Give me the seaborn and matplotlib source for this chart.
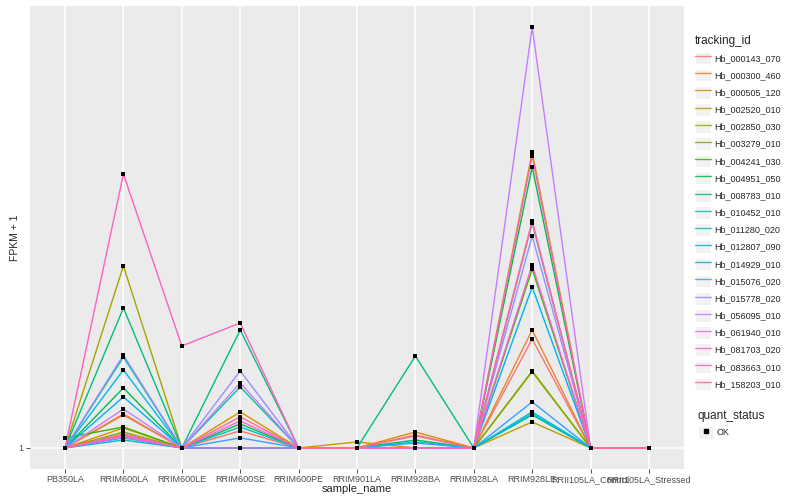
import numpy as np
import pandas as pd
import matplotlib
matplotlib.use('Agg')
import matplotlib.pyplot as plt
from matplotlib.lines import Line2D
from matplotlib.patches import Patch
from matplotlib.legend_handler import HandlerTuple
from matplotlib.ticker import NullLocator
import seaborn as sns

# samples on the x axis
samples = ['PB350LA', 'RRIM600LA', 'RRIM600LE', 'RRIM600SE', 'RRIM600PE', 'RRIM901LA',
           'RRIM928BA', 'RRIM928LA', 'RRIM928LE', 'RRII105LA_Control', 'RRII105LA_Stressed']

tracking_ids = ['Hb_000143_070', 'Hb_000300_460', 'Hb_000505_120', 'Hb_002520_010',
                'Hb_002850_030', 'Hb_003279_010', 'Hb_004241_030', 'Hb_004951_050',
                'Hb_008783_010', 'Hb_010452_010', 'Hb_011280_020', 'Hb_012807_090',
                'Hb_014929_010', 'Hb_015076_020', 'Hb_015778_020', 'Hb_056095_010',
                'Hb_061940_010', 'Hb_081703_020', 'Hb_083663_010', 'Hb_158203_010']

# FPKM + 1, one list per gene (same order as samples)
hb_000143_070 = [1, 1.177, 1, 1.088, 1, 1, 1.066, 1, 1.713, 1, 1]
hb_000300_460 = [1, 1.183, 1, 1, 1, 1, 1, 1, 1.791, 1, 1]
hb_000505_120 = [1, 1.104, 1, 1.195, 1, 1, 1.082, 1, 4.314, 1, 1]
hb_002520_010 = [1, 1.066, 1, 1, 1, 1.030, 1, 1, 1.137, 1, 1]
hb_002850_030 = [1, 2.458, 1, 1, 1, 1, 1, 1, 1.456, 1, 1]
hb_003279_010 = [1, 1.082, 1, 1, 1, 1, 1, 1, 1.463, 1, 1]
hb_004241_030 = [1.051, 1.109, 1, 1, 1, 1, 1, 1, 2.421, 1, 1]
hb_004951_050 = [1, 1.345, 1, 1.126, 1, 1, 1.040, 1, 4.007, 1, 1]
hb_008783_010 = [1, 1.997, 1, 1.791, 1, 1, 1.575, 1, 1.177, 1, 1]
hb_010452_010 = [1, 1.567, 1, 1.352, 1, 1, 1, 1, 3.039, 1, 1]
hb_011280_020 = [1, 1.040, 1, 1.109, 1, 1, 1.030, 1, 1.183, 1, 1]
hb_012807_090 = [1, 1.470, 1, 1, 1, 1, 1, 1, 1.195, 1, 1]
hb_014929_010 = [1, 1.287, 1, 1, 1, 1, 1, 1, 2.215, 1, 1]
hb_015076_020 = [1, 1.051, 1, 1.051, 1, 1, 1.025, 1, 1.255, 1, 1]
hb_015778_020 = [1, 1.583, 1, 1.463, 1, 1, 1, 1, 2.849, 1, 1]
hb_056095_010 = [1, 1.212, 1, 1.379, 1, 1, 1, 1, 8.0, 1, 1]
hb_061940_010 = [1, 1.056, 1, 1, 1, 1, 1, 1, 3.054, 1, 1]
hb_081703_020 = [1, 1.061, 1, 1.143, 1, 1, 1, 1, 2.470, 1, 1]
hb_083663_010 = [1, 3.870, 1.655, 1.854, 1, 1, 1, 1, 4.229, 1, 1]
hb_158203_010 = [1, 1.072, 1, 1.166, 1, 1, 1.061, 1, 3.069, 1, 1]

fpkm = [hb_000143_070, hb_000300_460, hb_000505_120, hb_002520_010, hb_002850_030,
        hb_003279_010, hb_004241_030, hb_004951_050, hb_008783_010, hb_010452_010,
        hb_011280_020, hb_012807_090, hb_014929_010, hb_015076_020, hb_015778_020,
        hb_056095_010, hb_061940_010, hb_081703_020, hb_083663_010, hb_158203_010]

# ggplot hue palette, 20 levels
colors = ['#F8766D', '#EA8331', '#D89000', '#C09B00', '#A3A500', '#7CAE00', '#39B600',
          '#00BB4E', '#00BF7D', '#00C1A3', '#00BFC4', '#00BAE0', '#00B0F6', '#35A2FF',
          '#9590FF', '#C77CFF', '#E76BF3', '#FA62DB', '#FF62BC', '#FF6C91']

rows = []
for tid, vals in zip(tracking_ids, fpkm):
    for s, v in zip(samples, vals):
        rows.append({'tracking_id': tid, 'sample_name': s, 'value': v, 'quant_status': 'OK'})
df = pd.DataFrame(rows)

sns.set_style('darkgrid', {'axes.facecolor': '#EBEBEB', 'grid.color': 'white'})
plt.rcParams['font.family'] = ['Liberation Sans', 'DejaVu Sans']

fig = plt.figure(figsize=(8, 5), dpi=100)
ax = fig.add_axes([0.0375, 0.062, 0.8175, 0.926])

sns.lineplot(data=df, x='sample_name', y='value', hue='tracking_id', hue_order=tracking_ids,
             palette=colors, estimator=None, sort=False, linewidth=1.0, legend=False, ax=ax)
sns.scatterplot(data=df, x='sample_name', y='value', color='black', marker='s', s=9,
                linewidth=0, legend=False, ax=ax, zorder=5)

ax.set_yscale('log')
ymax = max(max(v) for v in fpkm)
lo, hi = 0.0, np.log10(ymax)
pad = 0.05 * (hi - lo)
ax.set_ylim(10 ** (lo - pad), 10 ** (hi + pad))
ax.set_yticks([1])
ax.set_yticklabels(['1'])
ax.yaxis.set_minor_locator(NullLocator())
ax.set_xlim(-0.6, len(samples) - 0.4)
ax.grid(True, which='major', color='white', linewidth=1.1)
for sp in ax.spines.values():
    sp.set_visible(False)
ax.tick_params(axis='both', length=3, width=0.6, color='#333333', labelcolor='#4D4D4D',
               labelsize=6.5, pad=1.5, bottom=True, left=True)
ax.set_xlabel('sample_name', fontsize=8, labelpad=0)
ax.set_ylabel('FPKM + 1', fontsize=7.5, labelpad=-1)

# legends
key_bg = '#F2F2F2'
handles = [(Patch(facecolor=key_bg, edgecolor='white', linewidth=0.8),
            Line2D([], [], color=c, lw=1.0, alpha=0.85)) for c in colors]
leg1 = fig.legend(handles, tracking_ids, title='tracking_id', loc='upper left',
                  bbox_to_anchor=(0.869, 0.93), frameon=False, fontsize=6.5,
                  title_fontsize=8.5, handlelength=1.78, handleheight=1.78,
                  labelspacing=0.5, handletextpad=0.3, borderaxespad=0, borderpad=0,
                  handler_map={tuple: HandlerTuple(ndivide=1)})
leg1._legend_box.align = 'left'

h2 = [(Patch(facecolor=key_bg, edgecolor='white', linewidth=0.8),
       Line2D([], [], color='black', marker='s', ms=3, lw=0))]
leg2 = fig.legend(h2, ['OK'], title='quant_status', loc='upper left',
                  bbox_to_anchor=(0.869, 0.186), frameon=False, fontsize=6.5,
                  title_fontsize=8.5, handlelength=1.78, handleheight=1.78,
                  handletextpad=0.3, borderaxespad=0, borderpad=0.3,
                  handler_map={tuple: HandlerTuple(ndivide=1)})
leg2._legend_box.align = 'left'

plt.savefig('out.png', dpi=100)
